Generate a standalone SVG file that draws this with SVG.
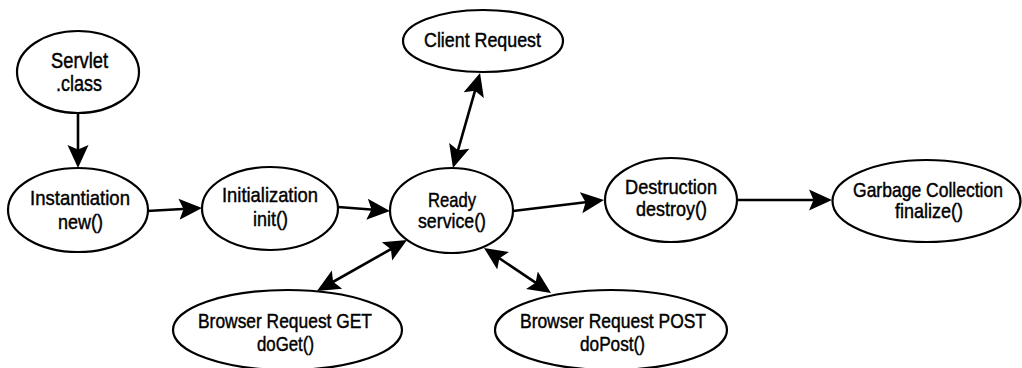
<svg xmlns="http://www.w3.org/2000/svg" width="1022" height="368" viewBox="0 0 1022 368">
  <style>
    .node ellipse { fill: #ffffff; stroke: #000000; stroke-width: 2.2; }
    .node text { font-family: "Liberation Sans", Arial, sans-serif; font-size: 21px; fill: #000000; stroke: #000000; stroke-width: 0.45; text-anchor: middle; }
    .edge { stroke: #000000; stroke-width: 2.6; fill: none; }
  </style>
  <defs>
    <marker id="head" markerUnits="userSpaceOnUse" markerWidth="25" markerHeight="24" viewBox="0 0 25 24" refX="17" refY="12" orient="auto-start-reverse">
      <path d="M0,1.5 L23,12 L0,22.5 L4.5,12 z" fill="#000000"/>
    </marker>
  </defs>

  <rect width="1022" height="368" fill="#ffffff"/>

  <!-- connectors -->
  <g id="connectors">
    <line class="edge" x1="78" y1="114" x2="78" y2="162" marker-end="url(#head)"/>
    <line class="edge" x1="147" y1="211" x2="196" y2="208.3" marker-end="url(#head)"/>
    <line class="edge" x1="338" y1="207" x2="384" y2="210.5" marker-end="url(#head)"/>
    <line class="edge" x1="513" y1="211" x2="598" y2="200.7" marker-end="url(#head)"/>
    <line class="edge" x1="737" y1="200" x2="826" y2="200" marker-end="url(#head)"/>
    <line class="edge" x1="454.6" y1="162.2" x2="478.4" y2="78.8" marker-start="url(#head)" marker-end="url(#head)"/>
    <line class="edge" x1="322.2" y1="288" x2="401.8" y2="243" marker-start="url(#head)" marker-end="url(#head)"/>
    <line class="edge" x1="489" y1="251.3" x2="546" y2="289.7" marker-start="url(#head)" marker-end="url(#head)"/>
  </g>

  <!-- nodes -->
  <g id="servlet-class" class="node">
    <ellipse cx="78" cy="72" rx="61" ry="41"/>
    <text x="79.5" y="68" textLength="57" lengthAdjust="spacingAndGlyphs" style="font-size:22.5px">Servlet</text>
    <text x="79" y="91" textLength="46" lengthAdjust="spacingAndGlyphs" style="font-size:22.5px">.class</text>
  </g>

  <g id="instantiation" class="node">
    <ellipse cx="78" cy="210" rx="70" ry="42"/>
    <text x="80" y="205" textLength="100" lengthAdjust="spacingAndGlyphs">Instantiation</text>
    <text x="80.5" y="229" textLength="45" lengthAdjust="spacingAndGlyphs">new()</text>
  </g>

  <g id="initialization" class="node">
    <ellipse cx="270" cy="208.5" rx="68" ry="41.5"/>
    <text x="270" y="202" textLength="96" lengthAdjust="spacingAndGlyphs">Initialization</text>
    <text x="270.5" y="226" textLength="35" lengthAdjust="spacingAndGlyphs">init()</text>
  </g>

  <g id="client-request" class="node">
    <ellipse cx="483" cy="41" rx="80" ry="31"/>
    <text x="482.5" y="47" textLength="117" lengthAdjust="spacingAndGlyphs">Client Request</text>
  </g>

  <g id="ready" class="node">
    <ellipse cx="451.5" cy="210.5" rx="61.5" ry="42.5"/>
    <text x="452" y="207" textLength="48" lengthAdjust="spacingAndGlyphs">Ready</text>
    <text x="452" y="228" textLength="68" lengthAdjust="spacingAndGlyphs">service()</text>
  </g>

  <g id="destruction" class="node">
    <ellipse cx="671" cy="200" rx="66" ry="42"/>
    <text x="671" y="194" textLength="92" lengthAdjust="spacingAndGlyphs">Destruction</text>
    <text x="671.5" y="216" textLength="71" lengthAdjust="spacingAndGlyphs">destroy()</text>
  </g>

  <g id="garbage-collection" class="node">
    <ellipse cx="926.5" cy="201" rx="94" ry="41"/>
    <text x="928" y="197" textLength="150" lengthAdjust="spacingAndGlyphs">Garbage Collection</text>
    <text x="929" y="218" textLength="68" lengthAdjust="spacingAndGlyphs">finalize()</text>
  </g>

  <g id="browser-get" class="node">
    <ellipse cx="287.5" cy="330" rx="114.5" ry="40"/>
    <text x="285" y="328" textLength="174" lengthAdjust="spacingAndGlyphs">Browser Request GET</text>
    <text x="285.5" y="351" textLength="57" lengthAdjust="spacingAndGlyphs">doGet()</text>
  </g>

  <g id="browser-post" class="node">
    <ellipse cx="611" cy="330" rx="116" ry="40"/>
    <text x="613" y="328" textLength="186" lengthAdjust="spacingAndGlyphs">Browser Request POST</text>
    <text x="612.5" y="351" textLength="65" lengthAdjust="spacingAndGlyphs">doPost()</text>
  </g>
</svg>
